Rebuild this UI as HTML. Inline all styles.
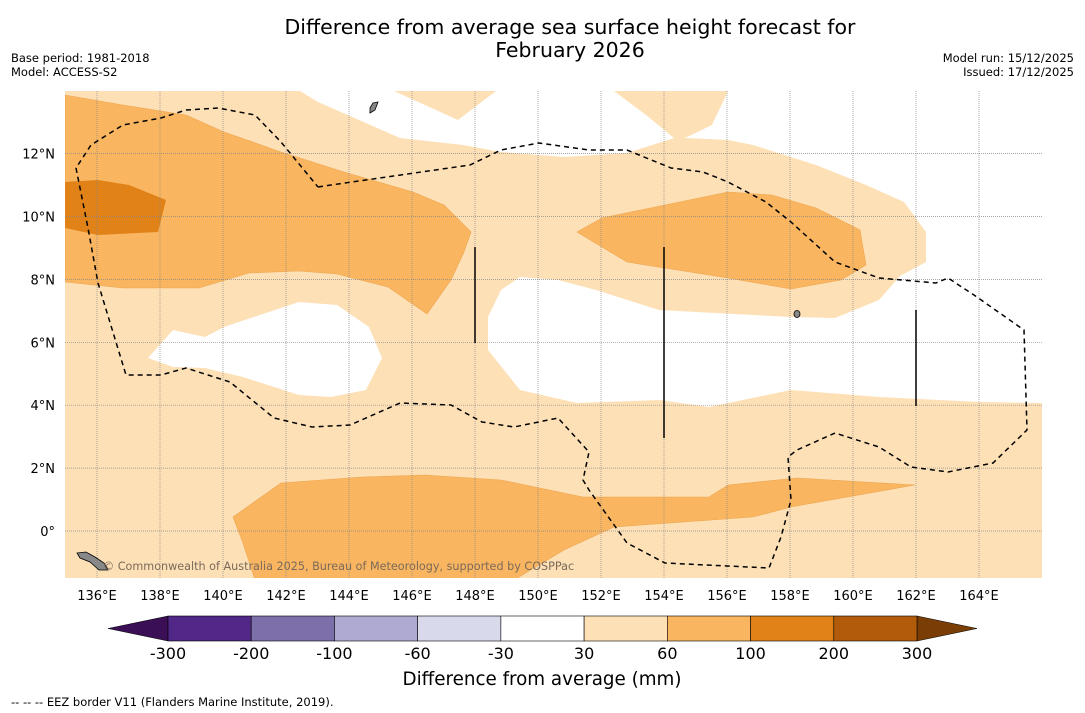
<!DOCTYPE html>
<html><head><meta charset="utf-8"><style>
body{margin:0;background:#fff;width:1085px;height:713px;overflow:hidden;font-family:"DejaVu Sans","Liberation Sans",sans-serif}
svg{position:absolute;left:0;top:0;font-family:"DejaVu Sans","Liberation Sans",sans-serif}
</style></head><body>
<svg width="1085" height="713">
<defs><clipPath id="mapclip"><rect x="65" y="91" width="977" height="487"/></clipPath></defs>
<text x="570" y="34" text-anchor="middle" font-size="20.5">Difference from average sea surface height forecast for</text>
<text x="570" y="57" text-anchor="middle" font-size="20.5">February 2026</text>
<text x="11" y="62" font-size="11.5">Base period: 1981-2018</text>
<text x="11" y="76" font-size="11.5">Model: ACCESS-S2</text>
<text x="1074" y="62" font-size="11.5" text-anchor="end">Model run: 15/12/2025</text>
<text x="1074" y="76" font-size="11.5" text-anchor="end">Issued: 17/12/2025</text>
<g clip-path="url(#mapclip)">
<rect x="65" y="91" width="977" height="487" fill="#fde0b6"/>
<polygon fill="#fff" points="300,91 318,102 400,138 463,145 501,152 564,157 627,153 674,138 646,115 614,91"/>
<polygon fill="#fde0b6" points="394,91 458,120 496,91"/>
<polygon fill="#fff" points="728,91 712,125 685,138 728,140 753,145 816,165 866,185 904,202 926,232 926,262 900,276 879,300 835,318 791,317 659,310 596,290 558,280 520,277 501,290 488,317 488,350 520,390 577,403 659,400 709,407 791,390 879,397 980,402 1042,403 1042,91"/>
<polygon fill="#fff" points="148,358 173,330 205,337 224,327 299,302 337,305 369,327 382,358 366,390 331,397 299,395 243,377 205,368 173,367"/>
<polygon fill="#f9b560" stroke="#eea650" stroke-width="0.6" points="65,95 123,105 186,115 224,132 281,152 344,172 413,192 444,205 471,232 464,252 451,280 427,314 388,287 337,274 299,271 249,273 199,288 123,288 65,282"/>
<polygon fill="#e08218" points="65,182 98,180 129,185 166,200 158,232 98,235 65,228"/>
<polygon fill="#f9b560" stroke="#eea650" stroke-width="0.6" points="577,232 602,218 665,205 728,192 772,195 816,208 860,230 866,265 841,280 791,289 728,278 627,262"/>
<polygon fill="#f9b560" stroke="#eea650" stroke-width="0.6" points="233,517 281,483 362,477 425,475 501,480 583,497 709,497 728,485 797,478 915,485 791,507 753,517 614,527 564,550 514,580 255,580 243,543"/>
<g stroke="#888" stroke-width="0.7" stroke-dasharray="1,1" id="grid"></g>
<polyline fill="none" stroke="#000" stroke-width="1.5" stroke-dasharray="5,4" points="318,187 331,185 470,165 501,150 539,143 589,150 627,150 671,168 703,172 728,182 766,202 791,222 835,262 879,278 936,283 948,278 974,295 1024,330 1027,430 993,463 948,472 911,467 879,447 835,433 797,450 788,457 791,500 781,537 769,568 665,563 627,543 589,490 583,480 589,452 558,418 514,427 482,422 451,405 400,403 350,425 312,427 274,418 230,382 186,368 161,375 126,375 98,283 88,228 76,168 91,145 123,125 161,118 186,110 218,108 255,115 281,142 318,187"/>
<line x1="475" y1="247" x2="475" y2="343" stroke="#000" stroke-width="1.5"/>
<line x1="664" y1="247" x2="664" y2="438" stroke="#000" stroke-width="1.5"/>
<line x1="916" y1="310" x2="916" y2="406" stroke="#000" stroke-width="1.5"/>
<polygon fill="#888" stroke="#000" stroke-width="0.8" points="77,553 86,552 95,557 104,563 108,570 99,570 90,562 80,558"/>
<ellipse cx="797" cy="314" rx="3" ry="3.5" fill="#888" stroke="#000" stroke-width="0.8"/>
<polygon fill="#888" stroke="#000" stroke-width="0.8" points="370,108 373,103 378,102 375,110 370,113"/>
<text x="103" y="570" font-size="11.2" fill="#7a6a5a">© Commonwealth of Australia 2025, Bureau of Meteorology, supported by COSPPac</text>
</g>
<g id="axislabels" font-size="13"></g>
<g id="colorbar"></g>
<text x="542" y="685" text-anchor="middle" font-size="18.3">Difference from average (mm)</text>
<text x="11" y="706" font-size="11.5">--  --  -- EEZ border V11 (Flanders Marine Institute, 2019).</text>
</svg>
<script>
const lonTicks=[136,138,140,142,144,146,148,150,152,154,156,158,160,162,164];
const latTicks=[0,2,4,6,8,10,12];
const cbLevels=["-300","-200","-100","-60","-30","30","60","100","200","300"];
const cbColors=["#512787","#7d6faa","#aeaad2","#d9d9ec","#ffffff","#fde0b6","#f9b560","#e08218","#b25c0b"];
const NS="http://www.w3.org/2000/svg";
const xOf=lon=>97+(lon-136)*31.5;
const yOf=lat=>531-lat*31.45;
function mk(t,a,p){const e=document.createElementNS(NS,t);for(const k in a)e.setAttribute(k,a[k]);p.appendChild(e);return e;}
const grid=document.getElementById('grid'),ax=document.getElementById('axislabels');
lonTicks.forEach(l=>{
 const ln=mk('line',{x1:xOf(l),x2:xOf(l),y1:91,y2:578},grid);
 
 
 const t=mk('text',{x:xOf(l),y:600,'text-anchor':'middle'},ax);t.textContent=l+'°E';
 
 
});
latTicks.forEach(l=>{
 const ln=mk('line',{x1:65,x2:1042,y1:yOf(l),y2:yOf(l)},grid);
 
 
 const t=mk('text',{x:55,y:yOf(l)+5,'text-anchor':'end'},ax);t.textContent=l===0?'0°':l+'°N';
 
 
});
const cb=document.getElementById('colorbar');
const x0=168,x1=917,y0=616,h=25,w=(x1-x0)/cbColors.length;
const la=mk('polygon',{points:`${x0},${y0} 108,${y0+h/2} ${x0},${y0+h}`,fill:'#3a0f55',stroke:'#000','stroke-width':0.5},cb);


const ra=mk('polygon',{points:`${x1},${y0} 977,${y0+h/2} ${x1},${y0+h}`,fill:'#7a3d06',stroke:'#000','stroke-width':0.5},cb);


cbColors.forEach((c,i)=>{
 const r=mk('rect',{x:x0+i*w,y:y0,width:w,height:h,fill:c,stroke:'#000','stroke-width':0.6},cb);
 
 
});
cbLevels.forEach((v,i)=>{
 const t=mk('text',{x:x0+i*w,y:659,'text-anchor':'middle','font-size':16},cb);t.textContent=v;
 
 
});
</script>
</body></html>
